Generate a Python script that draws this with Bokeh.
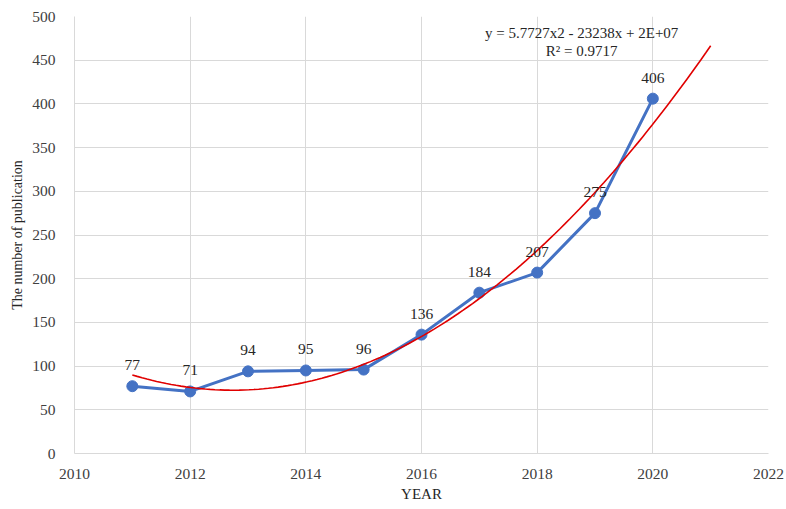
import numpy as np
from bokeh.plotting import figure
from bokeh.models import ColumnDataSource, Range1d, SingleIntervalTicker, Label, LabelSet
from bokeh.embed import file_html
from bokeh.resources import INLINE

years = [2011, 2012, 2013, 2014, 2015, 2016, 2017, 2018, 2019, 2020]
publications = [77, 71, 94, 95, 96, 136, 184, 207, 275, 406]
equation_text = "y = 5.7727x2 - 23238x + 2E+07"
r2_text = "R² = 0.9717"

# polynomial (order 2) trendline fitted to the data, extended one year forward
coef = np.polyfit(np.array(years) - 2015, publications, 2)
tx = np.linspace(2011, 2021, 120)
ty = np.polyval(coef, tx - 2015)

FONT = "Liberation Serif"

p = figure(width=786, height=509, output_backend="svg", toolbar_location=None,
           x_range=Range1d(2010, 2022), y_range=Range1d(0, 500),
           min_border_left=74, min_border_right=18, min_border_top=16, min_border_bottom=56)
p.frame_width = 694
p.frame_height = 437
p.outline_line_color = None
p.background_fill_color = "white"

p.xaxis.ticker = SingleIntervalTicker(interval=2)
p.yaxis.ticker = SingleIntervalTicker(interval=50)
for ax in (p.xaxis[0], p.yaxis[0]):
    ax.major_tick_line_color = None
    ax.minor_tick_line_color = None
    ax.axis_line_color = "#d9d9d9"
    ax.major_label_text_font = FONT
    ax.major_label_text_font_size = "15.5px"
    ax.major_label_text_color = "#404040"
    ax.axis_label_text_font = FONT
    ax.axis_label_text_font_style = "normal"
    ax.axis_label_text_color = "#262626"
p.xaxis.axis_label = "YEAR"
p.yaxis.axis_label = "The number of publication"
p.xaxis.axis_label_text_font_size = "15px"
p.yaxis.axis_label_text_font_size = "14px"
p.xaxis.major_label_standoff = 9
p.xaxis.axis_label_standoff = 4
p.yaxis.major_label_standoff = 13
p.yaxis.axis_label_standoff = 4
p.xgrid.grid_line_color = "#d9d9d9"
p.ygrid.grid_line_color = "#d9d9d9"

src = ColumnDataSource(dict(x=years, y=publications, lab=[str(v) for v in publications]))
p.line("x", "y", source=src, line_color="#4472C4", line_width=3)
p.scatter("x", "y", source=src, size=11, fill_color="#4472C4", line_color="#4472C4")
p.line(tx, ty, line_color="#E00000", line_width=1.6)

labels = LabelSet(x="x", y="y", text="lab", source=src, text_align="center",
                  text_baseline="middle", y_offset=21, text_font=FONT,
                  text_font_size="15.5px", text_color="#262626")
p.add_layout(labels)

p.add_layout(Label(x=2018.77, y=481, text=equation_text, text_align="center",
                   text_baseline="middle", text_font=FONT, text_font_size="15px",
                   text_color="#262626"))
p.add_layout(Label(x=2018.77, y=460, text=r2_text, text_align="center",
                   text_baseline="middle", text_font=FONT, text_font_size="15px",
                   text_color="#262626"))

open("out.html", "w").write(file_html(p, INLINE))
